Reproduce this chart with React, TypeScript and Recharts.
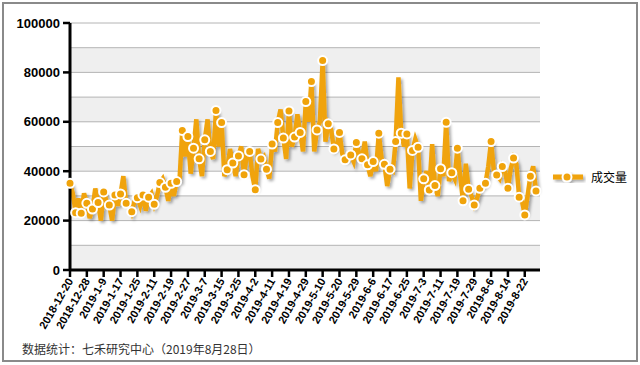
import React from 'react';
import { LineChart, Line, XAxis, YAxis, CartesianGrid } from 'recharts';

// trading days per month (2019-5-27 is missing in the source series)
const tradingDays: [string, number[]][] = [
  ['2018-12', [20, 21, 24, 25, 26, 27, 28]],
  ['2019-1', [2, 3, 4, 7, 8, 9, 10, 11, 14, 15, 16, 17, 18, 21, 22, 23, 24, 25, 28, 29, 30, 31]],
  ['2019-2', [1, 11, 12, 13, 14, 15, 18, 19, 20, 21, 22, 25, 26, 27, 28]],
  ['2019-3', [1, 4, 5, 6, 7, 8, 11, 12, 13, 14, 15, 18, 19, 20, 21, 22, 25, 26, 27, 28, 29]],
  ['2019-4', [1, 2, 3, 4, 8, 9, 10, 11, 12, 15, 16, 17, 18, 19, 22, 23, 24, 25, 26, 29, 30]],
  ['2019-5', [6, 7, 8, 9, 10, 13, 14, 15, 16, 17, 20, 21, 22, 23, 24, 28, 29, 30, 31]],
  ['2019-6', [3, 4, 5, 6, 10, 11, 12, 13, 14, 17, 18, 19, 20, 21, 24, 25, 26, 27, 28]],
  ['2019-7', [1, 2, 3, 4, 5, 8, 9, 10, 11, 12, 15, 16, 17, 18, 19, 22, 23, 24, 25, 26, 29, 30, 31]],
  ['2019-8', [1, 2, 5, 6, 7, 8, 9, 12, 13, 14, 15, 16, 19, 20, 21, 22, 23, 26, 27, 28]],
];

const volume = [
  35100, 31000, 23200, 29000, 23000, 31000, 27000, 21000, 24700, 33000,
  27300, 20000, 31600, 28000, 26300, 20000, 30400, 26000, 30800, 38000,
  27000, 27000, 23600, 28000, 29300, 26000, 30400, 24000, 29500, 31000,
  26600, 30000, 35400, 37000, 33500, 28000, 35100, 30000, 35800, 36000,
  56500, 46000, 54000, 39000, 49300, 61000, 45000, 38000, 52700, 61000,
  48000, 45000, 64600, 50000, 59700, 38000, 40600, 49000, 43300, 38000,
  46200, 50000, 38600, 47000, 48000, 38000, 32500, 49000, 44900, 46000,
  40800, 37000, 51000, 48000, 59700, 65000, 53400, 45000, 64400, 50000,
  53800, 63000, 55700, 48000, 68200, 60000, 76300, 48000, 56700, 60000,
  84800, 52000, 59200, 57000, 49000, 50000, 55700, 47000, 44600, 45000,
  46600, 44000, 51600, 47000, 45000, 52000, 42600, 38000, 43900, 40000,
  55400, 45000, 42800, 34000, 40800, 40000, 52000, 78000, 55400, 50000,
  55100, 33000, 48400, 53000, 49700, 28000, 36900, 40000, 32400, 51000,
  34200, 30000, 41000, 38000, 59800, 36000, 39400, 37000, 49300, 38000,
  28000, 43000, 32700, 30000, 26300, 29000, 33100, 34000, 35100, 42000,
  52000, 40000, 38500, 37000, 41900, 40000, 33100, 41000, 45300, 43000,
  29500, 28000, 22300, 30000, 38000, 42000, 32000,
];

const yTicks = [0, 10000, 20000, 30000, 40000, 50000, 60000, 70000, 80000, 90000, 100000];
const seriesName = '成交量';
const sourceNote = '数据统计：七禾研究中心（2019年8月28日）';

const dates = tradingDays.flatMap(([m, days]) => days.map((d) => `${m}-${d}`));
const data = dates.map((date, i) => ({ date, volume: volume[i] }));

const ORANGE = '#f0a30a';
const FONT = '"Liberation Sans", Arial, sans-serif';
const CJK = '"Noto Sans CJK SC", sans-serif';

const YTick = (props: any) => {
  const { y, payload } = props;
  if (payload.value % 20000 !== 0) return <g />;
  return (
    <g>
      <line x1={63} x2={70} y1={y} y2={y} stroke="#000" strokeWidth={2.5} />
      <text x={60} y={y} dy={4.5} textAnchor="end" fontSize={13} fontWeight="bold" fontFamily={FONT} fill="#000">
        {payload.value}
      </text>
    </g>
  );
};

const XTick = (props: any) => {
  const { x, y, payload } = props;
  return (
    <g transform={`translate(${x},${y})`}>
      <text x={0} y={0} dy={4} textAnchor="end" transform="rotate(-60)" fontSize={11} fontWeight="bold" fontFamily={FONT} fill="#000">
        {payload.value}
      </text>
    </g>
  );
};

const renderDot = (props: any) => {
  const { cx, cy, index } = props;
  if (index % 2 !== 0) return <g key={`d${index}`} />;
  return <circle key={`d${index}`} cx={cx} cy={cy} r={4.5} fill={ORANGE} stroke="#fff" strokeWidth={2} />;
};

export default function App() {
  return (
    <div style={{ position: 'relative', width: 640, height: 365, background: '#fff', fontFamily: FONT }}>
      <style>{`body{margin:0} .recharts-line{filter:url(#lineShadow)}`}</style>
      <svg width={0} height={0} style={{ position: 'absolute' }}>
        <defs>
          <filter id="lineShadow" x="-5%" y="-5%" width="115%" height="120%">
            <feDropShadow dx={2} dy={2} stdDeviation={1.5} floodColor="#000" floodOpacity={0.35} />
          </filter>
        </defs>
      </svg>
      <div style={{ position: 'absolute', left: 2, top: 2, width: 632, height: 356, border: '2px solid #8a8a8a' }} />
      <div style={{ position: 'absolute', left: 0, top: 0 }}>
        <LineChart width={640} height={365} data={data} margin={{ top: 23, right: 100, bottom: 25, left: 0 }}>
          <CartesianGrid vertical={false} stroke="#b4b4b4" horizontalFill={['#ffffff', '#efefef']} />
          <XAxis
            dataKey="date"
            interval={5}
            height={70}
            padding={{ left: 0, right: 4 }}
            tick={<XTick />}
            tickSize={7}
            tickLine={{ stroke: '#000', strokeWidth: 2.5 }}
            axisLine={{ stroke: '#000', strokeWidth: 3 }}
          />
          <YAxis
            type="number"
            domain={[0, 100000]}
            ticks={yTicks}
            width={70}
            tick={<YTick />}
            tickLine={false}
            axisLine={{ stroke: '#000', strokeWidth: 3 }}
          />
          <Line
            type="linear"
            dataKey="volume"
            name={seriesName}
            stroke={ORANGE}
            strokeWidth={4.5}
            dot={renderDot}
            activeDot={false}
            isAnimationActive={false}
          />
        </LineChart>
      </div>
      <div style={{ position: 'absolute', left: 553, top: 169, display: 'flex', alignItems: 'center' }}>
        <svg width={32} height={16} style={{ overflow: 'visible' }}>
          <g style={{ filter: 'url(#lineShadow)' }}>
            <line x1={0} x2={30} y1={8} y2={8} stroke={ORANGE} strokeWidth={5} />
            <circle cx={14} cy={8} r={4.5} fill={ORANGE} stroke="#fff" strokeWidth={2} />
          </g>
        </svg>
        <span style={{ marginLeft: 6, fontSize: 12, fontFamily: CJK, color: '#000', lineHeight: '16px' }}>{seriesName}</span>
      </div>
      <div style={{ position: 'absolute', left: 22, top: 341, fontSize: 12, fontFamily: CJK, color: '#333', lineHeight: '16px', whiteSpace: 'nowrap' }}>
        {sourceNote}
      </div>
    </div>
  );
}
